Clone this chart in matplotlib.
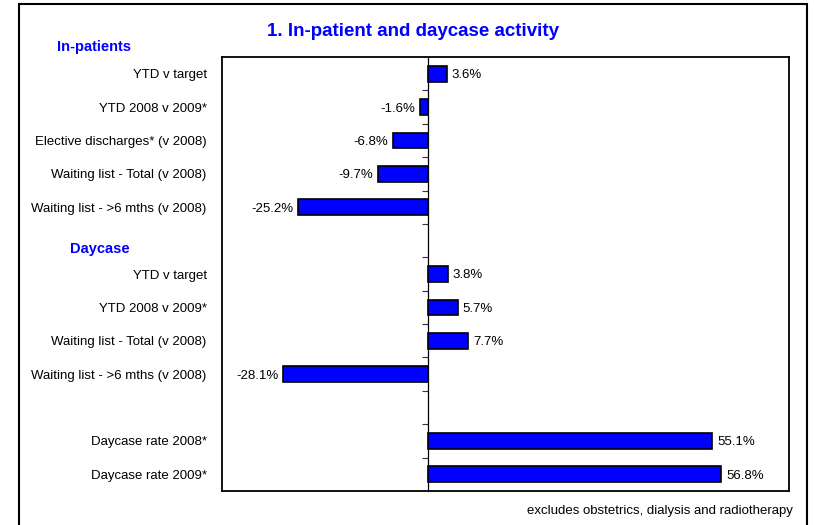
import matplotlib
matplotlib.use("Agg")
import matplotlib.pyplot as plt
from matplotlib.patches import Rectangle
import numpy as np

categories = ["YTD v target", "YTD 2008 v 2009*", "Elective discharges* (v 2008)",
              "Waiting list - Total (v 2008)", "Waiting list - >6 mths (v 2008)", "",
              "YTD v target", "YTD 2008 v 2009*", "Waiting list - Total (v 2008)",
              "Waiting list - >6 mths (v 2008)", "", "Daycase rate 2008*", "Daycase rate 2009*"]
values = [3.6, -1.6, -6.8, -9.7, -25.2, None, 3.8, 5.7, 7.7, -28.1, None, 55.1, 56.8]
title = "1. In-patient and daycase activity"
section_labels = ["In-patients", "Daycase"]
footnote = "excludes obstetrics, dialysis and radiotherapy"

plt.rcParams['font.family'] = ['Liberation Sans', 'DejaVu Sans']

W, H = 814, 525
fig = plt.figure(figsize=(W / 100, H / 100), dpi=100)
ax = fig.add_axes([222 / W, 1 - 491 / H, (789 - 222) / W, (491 - 57) / H])

y = np.arange(len(categories))
xmin, xmax = -40, 70
for yi, v in zip(y, values):
    if v is None:
        continue
    ax.barh(yi, v, height=0.47, color="#0000FF", edgecolor="black", linewidth=1.2, zorder=3)
    if v >= 0:
        ax.text(v + 1.0, yi, f"{v:.1f}%", va="center_baseline", ha="left", fontsize=9.5)
    else:
        ax.text(v - 1.0, yi, f"{v:.1f}%", va="center_baseline", ha="right", fontsize=9.5)

ax.set_xlim(xmin, xmax)
ax.set_ylim(len(categories) - 0.5, -0.5)
ax.set_yticks(y)
ax.set_yticklabels(categories, fontsize=9.5)
ax.tick_params(axis="y", length=0, pad=11)
ax.set_xticks([])
for s in ax.spines.values():
    s.set_linewidth(1.3)

# zero axis line with tick marks at category boundaries
sec = ax.secondary_yaxis((0 - xmin) / (xmax - xmin))
sec.set_yticks(np.arange(len(categories) - 1) + 0.5)
sec.set_yticklabels([])
sec.tick_params(axis="y", direction="out", length=4, width=0.8, color="#333333")
sec.spines["left"].set_linewidth(0.9)

# titles / labels
fig.text(413 / W, 1 - 31 / H, title, ha="center", va="center", color="#0000FF",
         fontsize=13.5, fontweight="bold")
fig.text(57 / W, 1 - 47 / H, section_labels[0], ha="left", va="center", color="#0000FF",
         fontsize=10.5, fontweight="bold")
fig.text(70 / W, 1 - 249 / H, section_labels[1], ha="left", va="center", color="#0000FF",
         fontsize=10.5, fontweight="bold")
fig.text(793 / W, 1 - 511 / H, footnote, ha="right", va="center", fontsize=9.5)

# figure frame
fig.patches.append(Rectangle((19 / W, -0.02), (807 - 19) / W, 1 - 4 / H + 0.02,
                             transform=fig.transFigure, fill=False, edgecolor="black",
                             linewidth=1.5, clip_on=False))

fig.savefig("out.png", dpi=100)
